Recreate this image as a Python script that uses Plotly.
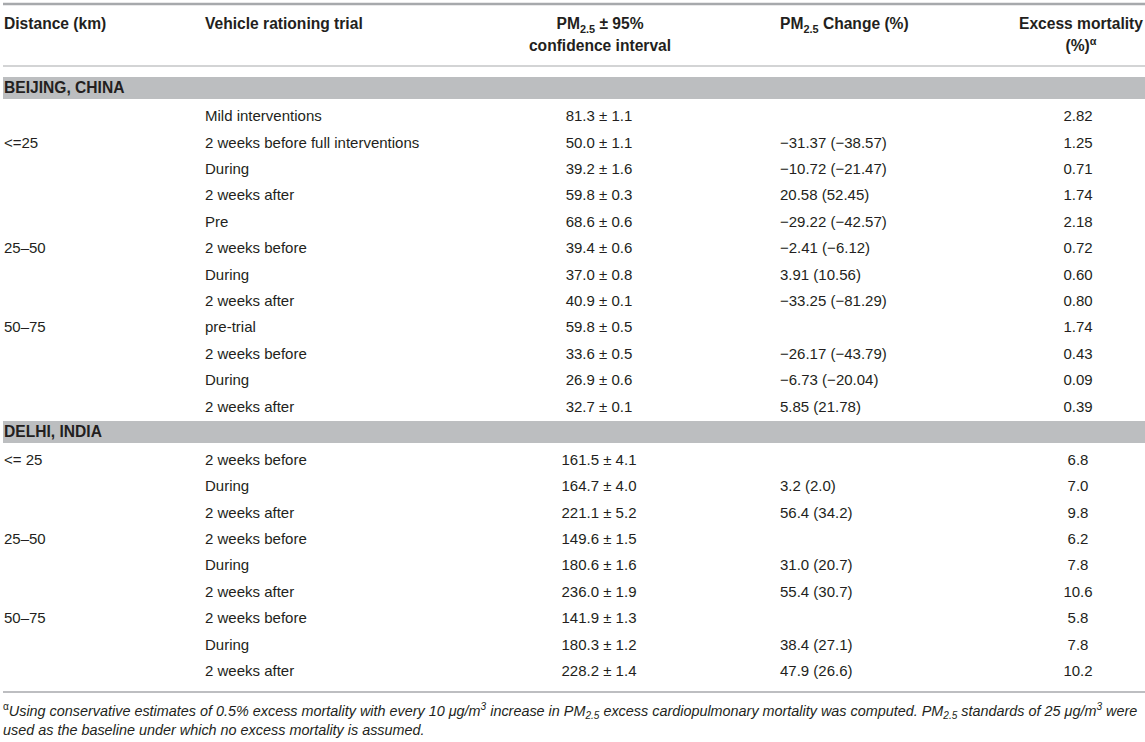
import plotly.graph_objects as go

# ---------------- data ----------------
header_distance = "Distance (km)"
header_trial = "Vehicle rationing trial"
header_pm = ["PM<sub>2.5</sub> ± 95%", "confidence interval"]
header_change = "PM<sub>2.5</sub> Change (%)"
header_mort = ["Excess mortality", "(%)<sup>α</sup>"]

group_names = ["BEIJING, CHINA", "DELHI, INDIA"]

beijing_distance = ["", "<=25", "", "", "", "25–50", "", "", "50–75", "", "", ""]
beijing_trial = ["Mild interventions", "2 weeks before full interventions", "During",
                 "2 weeks after", "Pre", "2 weeks before", "During", "2 weeks after",
                 "pre-trial", "2 weeks before", "During", "2 weeks after"]
beijing_pm_mean = [81.3, 50.0, 39.2, 59.8, 68.6, 39.4, 37.0, 40.9, 59.8, 33.6, 26.9, 32.7]
beijing_pm_ci = [1.1, 1.1, 1.6, 0.3, 0.6, 0.6, 0.8, 0.1, 0.5, 0.5, 0.6, 0.1]
beijing_change = [None, -31.37, -10.72, 20.58, -29.22, -2.41, 3.91, -33.25, None, -26.17, -6.73, 5.85]
beijing_change_pct = [None, -38.57, -21.47, 52.45, -42.57, -6.12, 10.56, -81.29, None, -43.79, -20.04, 21.78]
beijing_mort = [2.82, 1.25, 0.71, 1.74, 2.18, 0.72, 0.60, 0.80, 1.74, 0.43, 0.09, 0.39]

delhi_distance = ["<= 25", "", "", "25–50", "", "", "50–75", "", ""]
delhi_trial = ["2 weeks before", "During", "2 weeks after",
               "2 weeks before", "During", "2 weeks after",
               "2 weeks before", "During", "2 weeks after"]
delhi_pm_mean = [161.5, 164.7, 221.1, 149.6, 180.6, 236.0, 141.9, 180.3, 228.2]
delhi_pm_ci = [4.1, 4.0, 5.2, 1.5, 1.6, 1.9, 1.3, 1.2, 1.4]
delhi_change = [None, 3.2, 56.4, None, 31.0, 55.4, None, 38.4, 47.9]
delhi_change_pct = [None, 2.0, 34.2, None, 20.7, 30.7, None, 27.1, 26.6]
delhi_mort = [6.8, 7.0, 9.8, 6.2, 7.8, 10.6, 5.8, 7.8, 10.2]

footnote_lines = [
    "<sup>α</sup><i>Using conservative estimates of 0.5% excess mortality with every 10 μg/m<sup>3</sup> "
    "increase in PM<sub>2.5</sub> excess cardiopulmonary mortality was computed. PM<sub>2.5</sub> "
    "standards of 25 μg/m<sup>3</sup> were</i>",
    "<i>used as the baseline under which no excess mortality is assumed.</i>",
]

# ---------------- layout constants ----------------
W, H = 1145, 742
TEXT = "#231f20"
BAND = "#bcbec0"
RULE = "#a7a9ac"
FONT = "Liberation Sans, Arial, Helvetica, sans-serif"
FS = 15
FS_BOLD = 15.6
FS_FOOT = 14.4

X_DIST, X_TRIAL, X_PM, X_CHANGE, X_MORT = 4, 205, 599, 780, 1078
X_MORT_HEAD, X_PM_HEAD = 1081, 600
HEAD_Y = [25.5, 47.5]
PITCH = 26.4
BEIJING_BAND = (77, 99)
BEIJING_FIRST = 117.5
DELHI_BAND = (421, 443)
DELHI_FIRST = 461
FOOT_Y = [712, 731]


def fmt_num(v, d):
    s = f"{abs(v):.{d}f}"
    return ("−" + s) if v < 0 else s


def change_text(a, b, d):
    if a is None:
        return ""
    return f"{fmt_num(a, d)} ({fmt_num(b, d)})"


rows_dist, rows_trial, rows_pm, rows_change, rows_mort, rows_y = [], [], [], [], [], []
groups = [
    (beijing_distance, beijing_trial, beijing_pm_mean, beijing_pm_ci, beijing_change,
     beijing_change_pct, beijing_mort, 2, BEIJING_FIRST),
    (delhi_distance, delhi_trial, delhi_pm_mean, delhi_pm_ci, delhi_change,
     delhi_change_pct, delhi_mort, 1, DELHI_FIRST),
]
for dist, trial, pm, ci, ch, chp, mort, dec, y0 in groups:
    for i in range(len(trial)):
        rows_dist.append(dist[i])
        rows_trial.append(trial[i])
        rows_pm.append(f"{pm[i]:.1f} ± {ci[i]:.1f}")
        rows_change.append(change_text(ch[i], chp[i], dec))
        rows_mort.append(f"{mort[i]:.{dec}f}")
        rows_y.append(y0 + PITCH * i)

fig = go.Figure()


def add_text(xs, ys, texts, pos, size=FS, weight="normal", style="normal"):
    keep = [(x, y, t) for x, y, t in zip(xs, ys, texts) if t]
    fig.add_trace(go.Scatter(
        x=[k[0] for k in keep], y=[k[1] for k in keep], text=[k[2] for k in keep],
        mode="text", textposition=pos,
        textfont=dict(family=FONT, size=size, color=TEXT, weight=weight, style=style),
        hoverinfo="skip", showlegend=False, cliponaxis=False,
    ))


n = len(rows_y)
add_text([X_DIST] * n, rows_y, rows_dist, "middle right")
add_text([X_TRIAL] * n, rows_y, rows_trial, "middle right")
add_text([X_PM] * n, rows_y, rows_pm, "middle center")
add_text([X_CHANGE] * n, rows_y, rows_change, "middle right")
add_text([X_MORT] * n, rows_y, rows_mort, "middle center")

# headers
add_text([X_DIST, X_TRIAL, X_CHANGE], [HEAD_Y[0]] * 3,
         [header_distance, header_trial, header_change], "middle right",
         size=FS_BOLD, weight="bold")
add_text([X_PM_HEAD, X_PM_HEAD, X_MORT_HEAD, X_MORT_HEAD], HEAD_Y + HEAD_Y,
         header_pm + header_mort, "middle center", size=FS_BOLD, weight="bold")

# group bands
for (y0, y1), name in zip([BEIJING_BAND, DELHI_BAND], group_names):
    fig.add_shape(type="rect", x0=3, x1=W, y0=y0, y1=y1, fillcolor=BAND,
                  line_width=0, layer="below")
add_text([X_DIST, X_DIST], [sum(BEIJING_BAND) / 2 + 1, sum(DELHI_BAND) / 2 + 1],
         group_names, "middle right", size=FS_BOLD, weight="bold")

# rules
fig.add_shape(type="line", x0=3, x1=W, y0=4, y1=4, line=dict(color=RULE, width=2.5))
fig.add_shape(type="line", x0=3, x1=W, y0=66, y1=66, line=dict(color=RULE, width=1.2))
fig.add_shape(type="line", x0=3, x1=W, y0=692, y1=692, line=dict(color=RULE, width=1.5))

# footnote
add_text([3, 3], FOOT_Y, footnote_lines, "middle right", size=FS_FOOT)

fig.update_layout(
    width=W, height=H, margin=dict(l=0, r=0, t=0, b=0),
    paper_bgcolor="white", plot_bgcolor="white",
    xaxis=dict(range=[0, W], visible=False, fixedrange=True),
    yaxis=dict(range=[H, 0], visible=False, fixedrange=True),
)
fig.write_html("out.html", config={"displayModeBar": False},
               post_script="document.body.style.margin='0';document.body.style.overflow='hidden';")
